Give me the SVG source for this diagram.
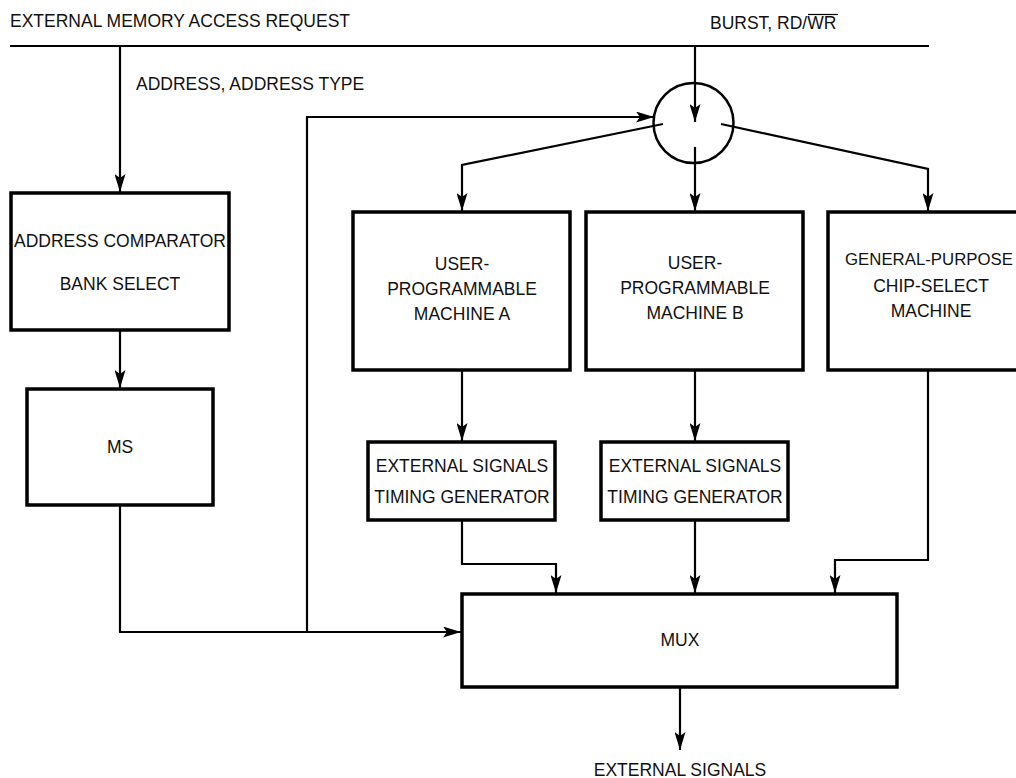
<svg xmlns="http://www.w3.org/2000/svg" width="1016" height="778" viewBox="0 0 1016 778">
<style>
text{font-family:"Liberation Sans",Arial,sans-serif;font-size:17.5px;fill:#111}
.c{text-anchor:middle}
.box{fill:#fff;stroke:#000;stroke-width:3.5}
.ln{fill:none;stroke:#000;stroke-width:2.2}
.ar{fill:none;stroke:#000;stroke-width:2.2;marker-end:url(#ah)}
</style>
<defs>
<marker id="ah" viewBox="0 0 18 11" refX="18" refY="5.5" markerWidth="18" markerHeight="11" markerUnits="userSpaceOnUse" orient="auto">
<path d="M0,0 L18,5.5 L0,11 L4,5.5 Z" fill="#000"/>
</marker>
</defs>
<g id="labels">
<text x="10" y="27">EXTERNAL MEMORY ACCESS REQUEST</text>
<text x="136" y="90">ADDRESS, ADDRESS TYPE</text>
<text x="710" y="29">BURST, RD/WR</text>
<line x1="808" y1="14.5" x2="838" y2="14.5" stroke="#000" stroke-width="1.2"/>
<text class="c" x="680" y="776">EXTERNAL SIGNALS</text>
</g>
<g id="connectors">
<line class="ln" x1="10" y1="46" x2="929" y2="46"/>
<path class="ar" d="M120,46 V192"/>
<path class="ar" d="M120,330 V388"/>
<path class="ar" d="M695,46 V122"/>
<path class="ar" d="M307,632 V117 H654"/>
<path class="ar" d="M663,124 L462,165 V211"/>
<path class="ar" d="M695,147 V211"/>
<path class="ar" d="M721,124 L928,169 V211"/>
<path class="ar" d="M462,370 V441"/>
<path class="ar" d="M695,370 V441"/>
<path class="ar" d="M462,520 V564 H556 V593"/>
<path class="ar" d="M695,520 V593"/>
<path class="ar" d="M928,370 V560 H835 V593"/>
<path class="ar" d="M120,505 V632 H461"/>
<path class="ar" d="M680,687 V750"/>
</g>
<g id="selector">
<circle cx="693.5" cy="123" r="40" fill="none" stroke="#000" stroke-width="2.5"/>
</g>
<g id="addr-comparator">
<rect class="box" x="11" y="193" width="218" height="137"/>
<text class="c" x="120" y="247">ADDRESS COMPARATOR</text>
<text class="c" x="120" y="290">BANK SELECT</text>
</g>
<g id="ms">
<rect class="box" x="27" y="389" width="186" height="116"/>
<text class="c" x="120" y="453">MS</text>
</g>
<g id="upm-a">
<rect class="box" x="353" y="212" width="217" height="158"/>
<text class="c" x="462" y="270">USER-</text>
<text class="c" x="462" y="295">PROGRAMMABLE</text>
<text class="c" x="462" y="320">MACHINE A</text>
</g>
<g id="upm-b">
<rect class="box" x="586" y="212" width="217" height="158"/>
<text class="c" x="695" y="269">USER-</text>
<text class="c" x="695" y="294">PROGRAMMABLE</text>
<text class="c" x="695" y="319">MACHINE B</text>
</g>
<g id="gpcm">
<rect class="box" x="828" y="212" width="217" height="158"/>
<text class="c" x="929" y="265" style="font-size:16.8px">GENERAL-PURPOSE</text>
<text class="c" x="931" y="292">CHIP-SELECT</text>
<text class="c" x="931" y="317">MACHINE</text>
</g>
<g id="timing-a">
<rect class="box" x="368" y="442" width="187" height="78"/>
<text class="c" x="462" y="472">EXTERNAL SIGNALS</text>
<text class="c" x="462" y="503">TIMING GENERATOR</text>
</g>
<g id="timing-b">
<rect class="box" x="601" y="442" width="187" height="78"/>
<text class="c" x="695" y="472">EXTERNAL SIGNALS</text>
<text class="c" x="695" y="503">TIMING GENERATOR</text>
</g>
<g id="mux">
<rect class="box" x="462" y="594" width="435" height="93"/>
<text class="c" x="680" y="646">MUX</text>
</g>
</svg>
